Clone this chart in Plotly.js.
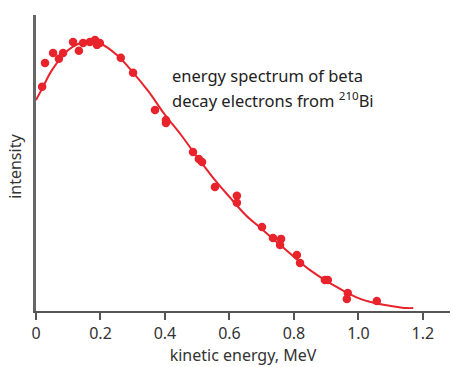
<!DOCTYPE html>
<html>
<head>
<meta charset="utf-8">
<script src="https://cdn.plot.ly/plotly-3.0.1.min.js"></script>
<style>html,body{margin:0;padding:0;background:#fff;}#chart{width:451px;height:367px;}</style>
</head>
<body>
<div id="chart"></div>
<script>
// measured data points (kinetic energy in MeV, relative intensity)
const pointEnergy = [0.019, 0.028, 0.053, 0.071, 0.084, 0.115, 0.133, 0.146, 0.167, 0.183, 0.189, 0.198, 0.263, 0.301,
  0.369, 0.403, 0.403, 0.487, 0.515, 0.505, 0.555, 0.623, 0.623, 0.701, 0.735, 0.760, 0.757, 0.809, 0.819,
  0.896, 0.905, 0.967, 0.964, 1.057];
const pointIntensity = [0.833, 0.922, 0.959, 0.937, 0.959, 1.000, 0.967, 0.996, 1.000, 1.007, 0.989, 0.996, 0.941, 0.885,
  0.747, 0.710, 0.699, 0.591, 0.554, 0.565, 0.461, 0.428, 0.402, 0.312, 0.271, 0.268, 0.245, 0.208, 0.178,
  0.115, 0.115, 0.067, 0.045, 0.037];
// fitted spectrum curve
const curveEnergy = [0, 0.02, 0.05, 0.1, 0.15, 0.2, 0.25, 0.3, 0.35, 0.4, 0.45, 0.5, 0.55, 0.6, 0.65, 0.7, 0.75,
  0.8, 0.85, 0.9, 0.95, 1.0, 1.05, 1.1, 1.15, 1.17];
const curveIntensity = [0.784, 0.829, 0.896, 0.970, 1.000, 0.993, 0.952, 0.888, 0.814, 0.729, 0.654, 0.572, 0.494,
  0.424, 0.357, 0.305, 0.253, 0.201, 0.152, 0.112, 0.078, 0.048, 0.030, 0.019, 0.011, 0.011];
const tickValues = [0, 0.2, 0.4, 0.6, 0.8, 1.0, 1.2];
const tickLabels = ["0", "0.2", "0.4", "0.6", "0.8", "1.0", "1.2"];

const red = '#e8232b';
const font = 'Noto Sans, sans-serif';
const traces = [
  {x: curveEnergy, y: curveIntensity, mode: 'lines', line: {color: red, width: 2, shape: 'spline'}, hoverinfo: 'skip'},
  {x: pointEnergy, y: pointIntensity, mode: 'markers', marker: {color: red, size: 8.5}}
];
const layout = {
  width: 451, height: 367,
  margin: {l: 36, r: 1, t: 15, b: 56},
  showlegend: false,
  paper_bgcolor: '#fff', plot_bgcolor: '#fff',
  font: {family: font, size: 16, color: '#333'},
  xaxis: {
    range: [0, 1.284], showgrid: false, zeroline: false,
    showline: true, linecolor: '#555', linewidth: 2,
    ticks: 'outside', ticklen: 7, tickwidth: 2, tickcolor: '#555',
    tickvals: tickValues, ticktext: tickLabels,
    tickfont: {family: font, size: 16, color: '#333'},
    title: {text: 'kinetic energy, MeV', font: {family: font, size: 16, color: '#333'}, standoff: 3}
  },
  yaxis: {
    range: [0, 1.1], showgrid: false, zeroline: false,
    showline: true, linecolor: '#666', linewidth: 3,
    showticklabels: false, ticks: ''
  },
  annotations: [
    {xref: 'paper', yref: 'paper', x: -0.051, y: 0.49, text: 'intensity', textangle: -90,
     showarrow: false, xanchor: 'center', yanchor: 'middle', font: {family: font, size: 16, color: '#333'}},
    {xref: 'paper', yref: 'paper', x: 0.323, y: 0.794, align: 'left', xanchor: 'left', yanchor: 'middle',
     text: 'energy spectrum of beta', showarrow: false,
     font: {family: font, size: 16.5, color: '#222'}},
    {xref: 'paper', yref: 'paper', x: 0.323, y: 0.712, align: 'left', xanchor: 'left', yanchor: 'middle',
     text: 'decay electrons from <sup>210</sup>Bi', showarrow: false,
     font: {family: font, size: 16.5, color: '#222'}}
  ]
};
Plotly.newPlot('chart', traces, layout, {displayModeBar: false, staticPlot: true});
</script>
</body>
</html>
